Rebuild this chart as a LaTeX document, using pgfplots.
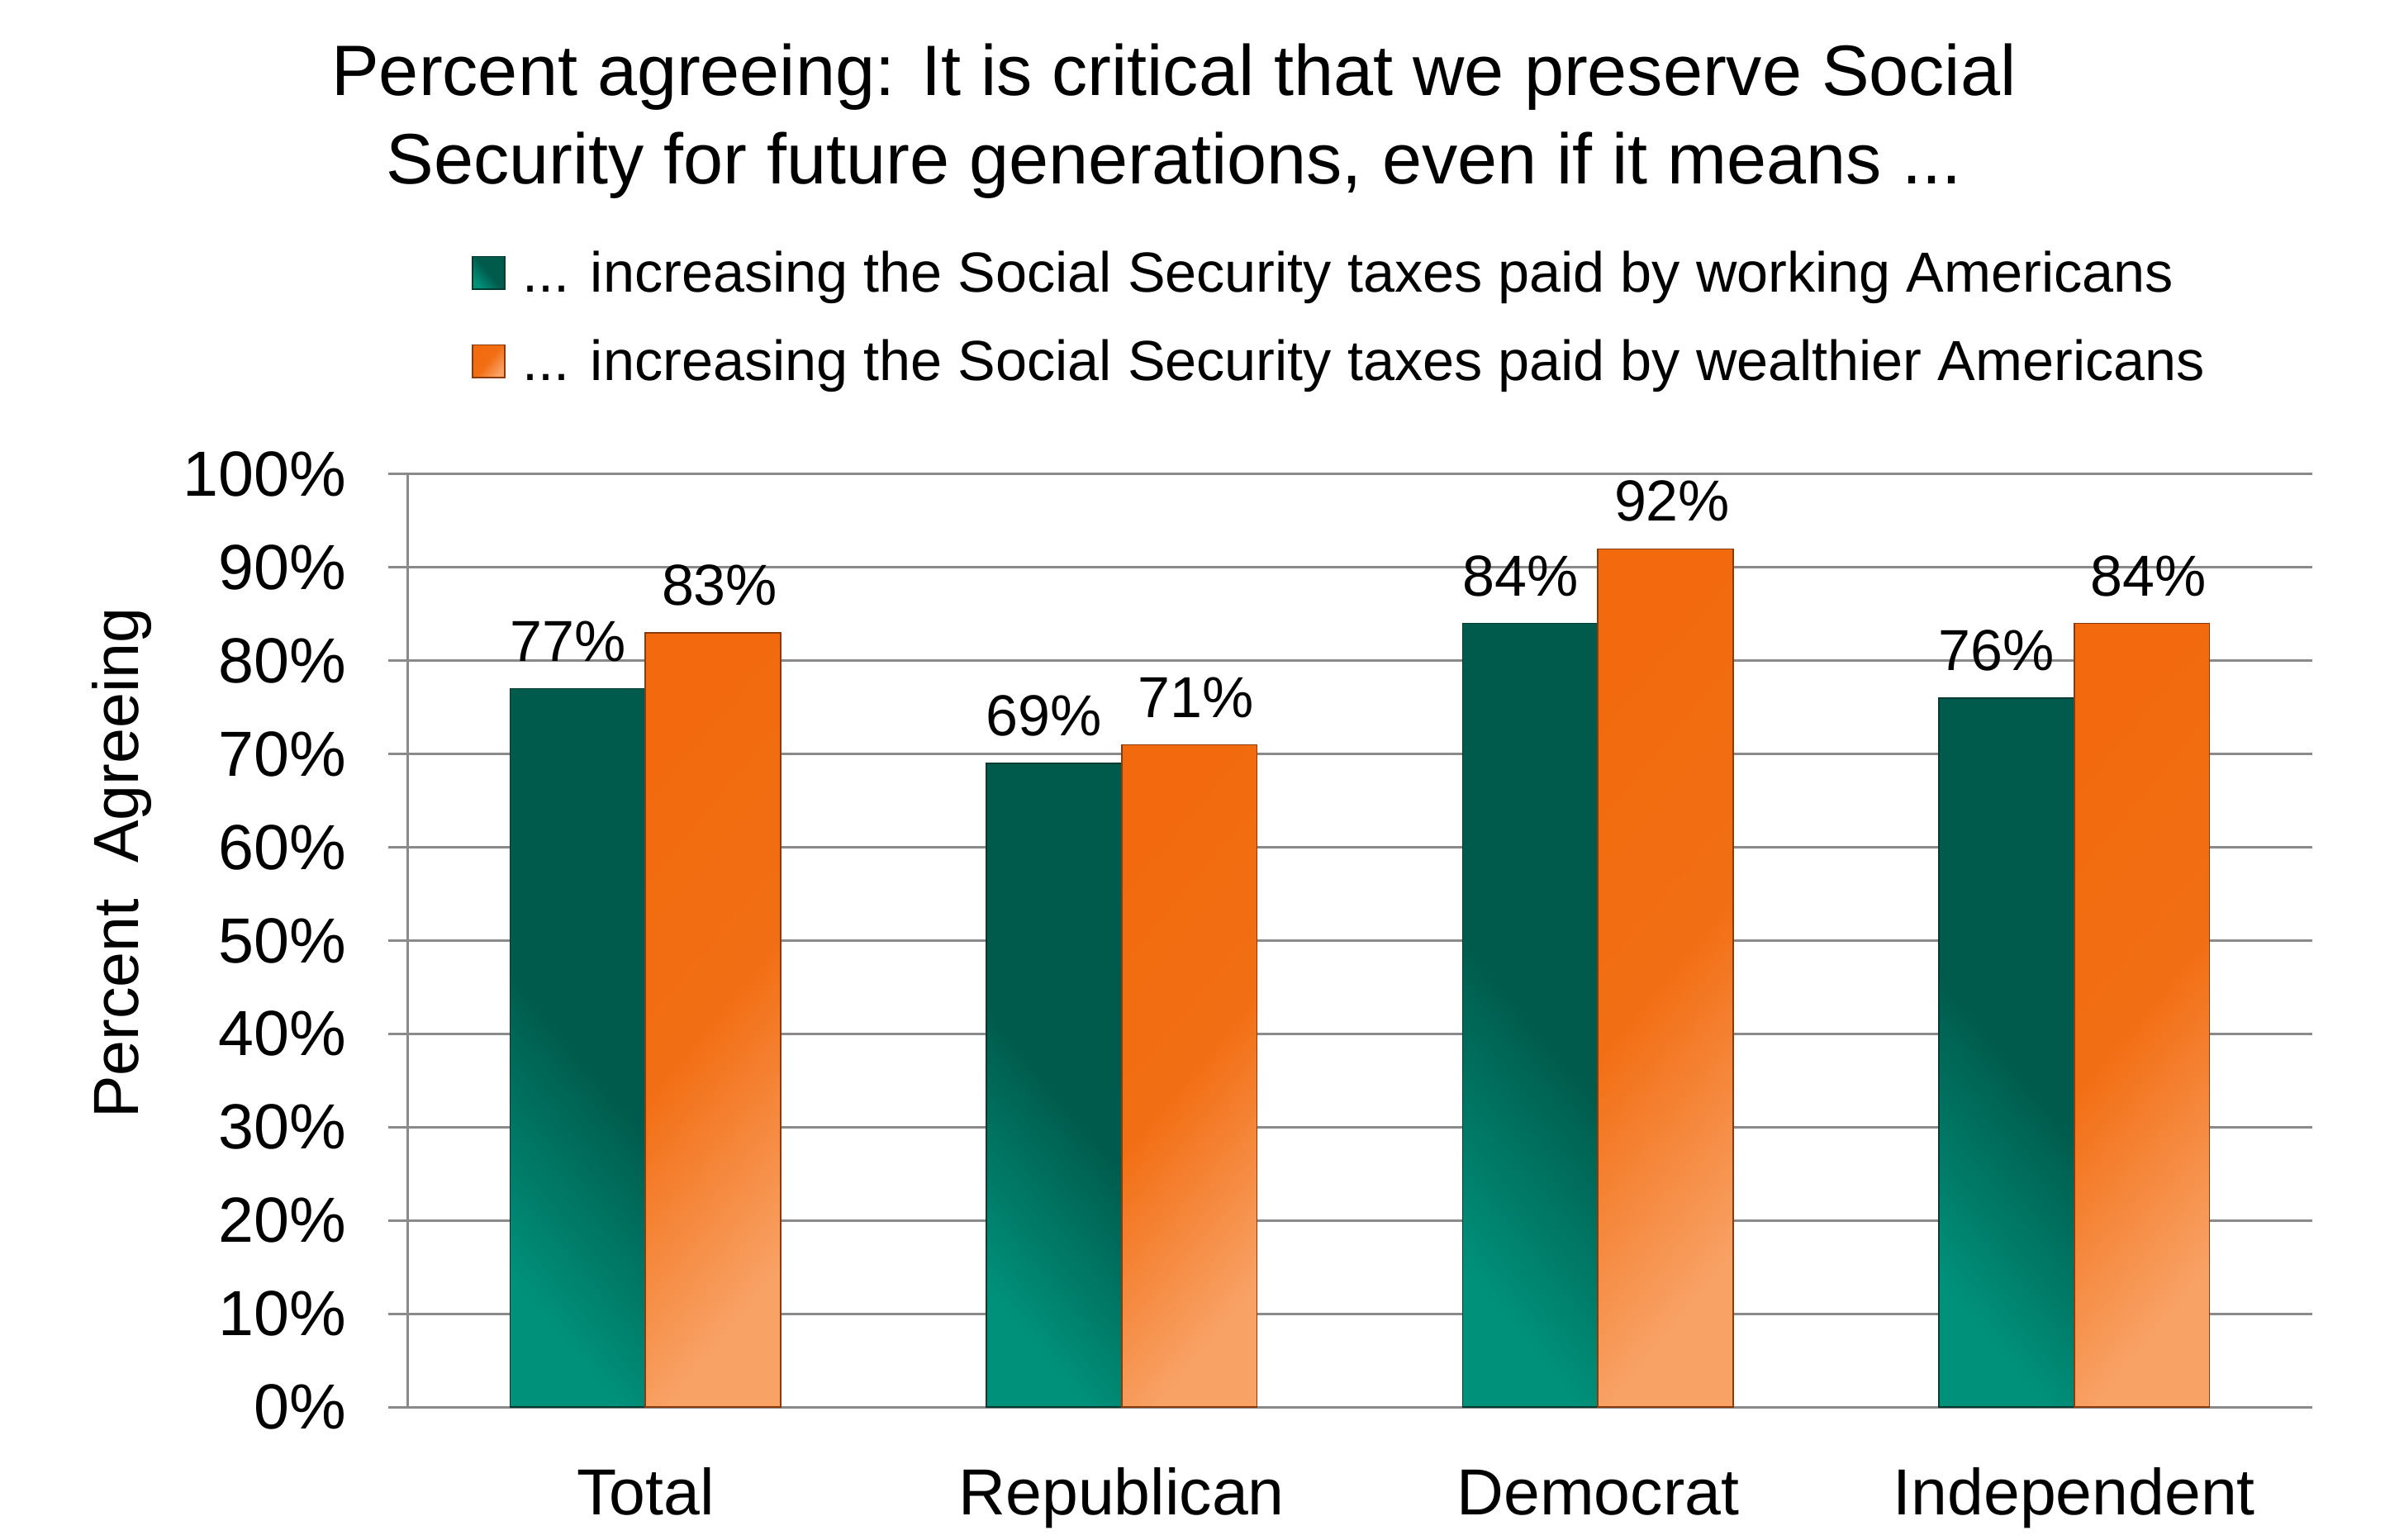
\documentclass[border=0pt]{standalone}
\usepackage{fontspec}
\setmainfont{Liberation Sans}
\usepackage{pgfplots}
\pgfplotsset{compat=1.18}
\definecolor{gdark}{HTML}{005B4C}
\definecolor{glight}{HTML}{00917B}
\definecolor{gedge}{HTML}{003A31}
\definecolor{odark}{HTML}{F26A0D}
\definecolor{olight}{HTML}{F8A266}
\definecolor{oedge}{HTML}{8A3A0B}
\definecolor{gridc}{HTML}{8A8A8A}
\pgfplotsset{
  gbar/.style={ybar, bar width=0.284, bar shift=0pt, draw=gedge, line width=0.4pt,
    top color=gdark, bottom color=glight, middle color=gdark, shading angle=-50,
    every node near coord/.append style={xshift=-3pt},
    legend image code/.code={\draw[draw=gedge, fill=gdark] (0pt,-3.5pt) rectangle (9.8pt,6.3pt); \path (15pt,0pt);}},
  obar/.style={ybar, bar width=0.284, bar shift=0pt, draw=oedge, line width=0.4pt,
    top color=odark, bottom color=olight, middle color=odark!92!olight, shading angle=50,
    every node near coord/.append style={xshift=2pt},
    legend image code/.code={\draw[draw=oedge, fill=odark] (0pt,-3.5pt) rectangle (9.8pt,6.3pt); \path (15pt,0pt);}},
}
\begin{document}
\begin{tikzpicture}
\useasboundingbox (0,0) rectangle (721.75pt,465.75pt);
\node[align=center, font=\fontsize{21.6}{26.7}\selectfont] at (355.25pt,429pt)
  {Percent agreeing: It is critical that we preserve Social\\Security for future generations, even if it means ...};
\begin{axis}[
  at={(123.25pt,40pt)}, anchor=south west,
  scale only axis, width=576.5pt, height=282.25pt,
  xmin=-0.5, xmax=3.5, ymin=0, ymax=100,
  axis lines*=left,
  axis line style={color=gridc, line width=0.75pt},
  xtick={0,1,2,3},
  xticklabels={Total,Republican,Democrat,Independent},
  x tick style={draw=none},
  ytick={0,10,...,100},
  yticklabel={\pgfmathprintnumber{\tick}\%},
  /pgf/number format/assume math mode=true,
  y tick style={color=gridc, line width=0.75pt},
  tick align=outside,
  major tick length=5.75pt,
  ymajorgrids,
  grid style={color=gridc, line width=0.75pt},
  yticklabel style={font=\fontsize{19.3}{23}\selectfont, inner sep=0pt, xshift=-12.5pt, anchor=east},
  xticklabel style={font=\fontsize{19.7}{23}\selectfont, inner sep=0pt, anchor=base, yshift=-26.75pt},
  ylabel={Percent\ \ Agreeing},
  every axis y label/.style={at={(axis description cs:-0.150,0.583)}, anchor=center, rotate=90, font=\fontsize{19.3}{23}\selectfont},
  legend style={
    at={(rel axis cs:0.0335,1.240)}, anchor=north west,
    draw=none, fill=none, inner sep=0pt,
    row sep=10.75pt,
    font=\fontsize{17.1}{20}\selectfont,
    nodes={inner sep=0pt, text height=12.5pt, text depth=3.5pt},
  },
  legend cell align=left,
  nodes near coords={\pgfmathprintnumber{\pgfplotspointmeta}\%},
  every node near coord/.append style={font=\fontsize{17.5}{20}\selectfont, text=black, anchor=south, inner sep=0pt, yshift=8pt},
]
% Total
\addplot[gbar] coordinates {(-0.142,77)};
\addlegendentry{... increasing the Social Security taxes paid by working Americans}
\addplot[obar] coordinates {(0.142,83)};
\addlegendentry{... increasing the Social Security taxes paid by wealthier Americans}
% Republican
\addplot[gbar, forget plot] coordinates {(0.858,69)};
\addplot[obar, forget plot] coordinates {(1.142,71)};
% Democrat
\addplot[gbar, forget plot] coordinates {(1.858,84)};
\addplot[obar, forget plot] coordinates {(2.142,92)};
% Independent
\addplot[gbar, forget plot] coordinates {(2.858,76)};
\addplot[obar, forget plot] coordinates {(3.142,84)};
\end{axis}
\end{tikzpicture}
\end{document}
